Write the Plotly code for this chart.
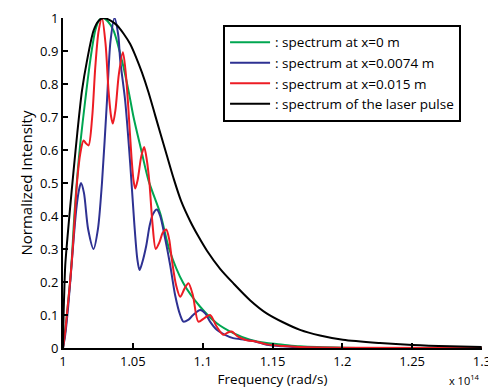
import plotly.graph_objects as go

# Frequency in units of 1e14 rad/s
green_freq = [1.0, 1.0016, 1.0029, 1.0052, 1.0066, 1.0081, 1.0100, 1.0124, 1.0159, 1.0195, 1.0231, 1.0258,
              1.0286, 1.0320, 1.0362, 1.0422, 1.0469, 1.0505, 1.0560, 1.0612, 1.0696, 1.0760, 1.0862,
              1.0982, 1.1101, 1.1220, 1.1339, 1.1458, 1.1575, 1.1697, 1.2004, 1.3]
green_val = [0, 0.05, 0.106, 0.206, 0.29, 0.40, 0.508, 0.62, 0.75, 0.871, 0.962, 0.993,
             1.0, 0.99, 0.962, 0.871, 0.78, 0.70, 0.60, 0.508, 0.408, 0.30, 0.196,
             0.125, 0.075, 0.045, 0.025, 0.015, 0.01, 0.005, 0.001, 0]

blue_freq = [1.0, 1.0016, 1.0038, 1.0064, 1.0095, 1.0115, 1.0129, 1.0150, 1.0180, 1.0219, 1.0250,
             1.0279, 1.0315, 1.0340, 1.0369, 1.0395, 1.0410, 1.0445, 1.0481, 1.0510, 1.0532, 1.0548,
             1.0568, 1.0596, 1.0620, 1.0643, 1.0672, 1.0696, 1.0732, 1.0768, 1.0803, 1.0839, 1.0862,
             1.0896, 1.0932, 1.0982, 1.1018, 1.1053, 1.1101, 1.1160, 1.1218, 1.1303, 1.1375, 1.1458,
             1.1575, 1.1697, 1.2004, 1.3]
blue_val = [0, 0.04, 0.13, 0.266, 0.42, 0.48, 0.50, 0.47, 0.36, 0.30, 0.36,
            0.50, 0.75, 0.93, 1.0, 0.95, 0.871, 0.75, 0.56, 0.38, 0.27, 0.236,
            0.26, 0.31, 0.37, 0.405, 0.42, 0.40, 0.33, 0.25, 0.16, 0.10, 0.08,
            0.085, 0.10, 0.115, 0.105, 0.08, 0.055, 0.04, 0.03, 0.025, 0.02, 0.01,
            0.005, 0.002, 0, 0]

red_freq = [1.0, 1.0016, 1.0029, 1.0052, 1.0066, 1.0076, 1.0100, 1.0124, 1.0147, 1.0165, 1.0183,
            1.0209, 1.0231, 1.0255, 1.0279, 1.0305, 1.0326, 1.0345, 1.0357, 1.0375, 1.0400, 1.0429,
            1.0450, 1.0469, 1.0490, 1.0505, 1.0517, 1.0535, 1.0560, 1.0581, 1.0600, 1.0619, 1.0640,
            1.0664, 1.0690, 1.0715, 1.0739, 1.0760, 1.0780, 1.0810, 1.0839, 1.0870, 1.0898, 1.0930,
            1.0969, 1.1010, 1.1053, 1.1100, 1.1148, 1.1180, 1.1208, 1.1250, 1.1303, 1.1340, 1.1380,
            1.1458, 1.1575, 1.1697, 1.2004, 1.3]
red_val = [0, 0.05, 0.106, 0.206, 0.28, 0.34, 0.50, 0.59, 0.629, 0.62, 0.614,
           0.70, 0.85, 0.96, 1.0, 0.92, 0.78, 0.70, 0.68, 0.72, 0.83, 0.896,
           0.83, 0.72, 0.58, 0.508, 0.483, 0.51, 0.58, 0.609, 0.57, 0.50, 0.38,
           0.30, 0.32, 0.35, 0.359, 0.33, 0.266, 0.19, 0.155, 0.18, 0.196, 0.16,
           0.08, 0.09, 0.10, 0.065, 0.04, 0.047, 0.05, 0.035, 0.025, 0.022, 0.02,
           0.011, 0.006, 0.003, 0.001, 0]

laser_freq = [1.0, 1.0004, 1.0009, 1.0016, 1.0031, 1.0052, 1.0076, 1.0102, 1.0136, 1.0172, 1.0219,
              1.0252, 1.0290, 1.0338, 1.0386, 1.0433, 1.0481, 1.0524, 1.0565, 1.0612, 1.0660, 1.0696,
              1.0739, 1.0791, 1.0846, 1.0910, 1.0967, 1.1032, 1.1125, 1.1220, 1.1339, 1.1458, 1.1575,
              1.1697, 1.1840, 1.2004, 1.2269, 1.2504, 1.2769, 1.2998]
laser_val = [0, 0.10, 0.17, 0.25, 0.33, 0.43, 0.538, 0.65, 0.78, 0.871, 0.962,
             0.99, 1.0, 0.993, 0.978, 0.953, 0.921, 0.88, 0.835, 0.775, 0.705, 0.652,
             0.59, 0.515, 0.445, 0.385, 0.34, 0.294, 0.24, 0.196, 0.145, 0.105, 0.078,
             0.055, 0.038, 0.025, 0.015, 0.009, 0.005, 0.003]

series_names = [": spectrum at x=0 m", ": spectrum at x=0.0074 m",
                ": spectrum at x=0.015 m", ": spectrum of the laser pulse"]
series_colors = ["#00a651", "#2e3192", "#ed1c24", "#000000"]

x_ticks = [1, 1.05, 1.1, 1.15, 1.2, 1.25, 1.3]
x_tick_labels = ["1", "1.05", "1.1", "1.15", "1.2", "1.25", "1.3"]
y_ticks = [0, 0.1, 0.2, 0.3, 0.4, 0.5, 0.6, 0.7, 0.8, 0.9, 1]
y_tick_labels = ["0", "0.1", "0.2", "0.3", "0.4", "0.5", "0.6", "0.7", "0.8", "0.9", "1"]

FONT = "Open Sans"

fig = go.Figure()
for fx, fy, name, col in zip([green_freq, blue_freq, red_freq, laser_freq],
                             [green_val, blue_val, red_val, laser_val],
                             series_names, series_colors):
    fig.add_trace(go.Scatter(x=fx, y=fy, mode="lines", name=name,
                             line=dict(color=col, width=2, shape="spline", smoothing=0.8)))

# The page body has an 8px default margin; the figure is sized so that the
# plot area lands at the same window position as the reference.
fig.update_layout(
    width=488, height=381,
    margin=dict(l=55, r=14, t=10, b=41, pad=0),
    paper_bgcolor="white", plot_bgcolor="white",
    font=dict(family=FONT, size=13, color="black"),
    showlegend=True,
    legend=dict(x=0.382, y=0.979, xanchor="left", yanchor="top",
                bordercolor="black", borderwidth=2, bgcolor="white",
                font=dict(family=FONT, size=13.5, color="black"),
                itemwidth=40),
    xaxis=dict(range=[1, 1.3], tickvals=x_ticks, ticktext=x_tick_labels, automargin=False,
               showgrid=False, zeroline=False, showline=True, linecolor="black", linewidth=2,
               ticks="inside", ticklen=5, tickwidth=1.5, tickcolor="black",
               tickfont=dict(size=13),
               title=dict(text="Frequency (rad/s)", standoff=0, font=dict(size=13.5))),
    yaxis=dict(range=[0, 1], tickvals=y_ticks, ticktext=y_tick_labels, automargin=False,
               showgrid=False, zeroline=False, showline=True, linecolor="black", linewidth=2,
               ticks="inside", ticklen=5, tickwidth=1.5, tickcolor="black",
               tickfont=dict(size=13),
               title=dict(text="Normalized Intensity", standoff=4, font=dict(size=15))),
    annotations=[dict(text="x 10<sup>14</sup>", xref="paper", yref="paper", x=1.0, y=-0.068,
                      xanchor="right", yanchor="top", showarrow=False,
                      font=dict(family=FONT, size=11, color="black"))],
)

fig.write_html("out.html")
